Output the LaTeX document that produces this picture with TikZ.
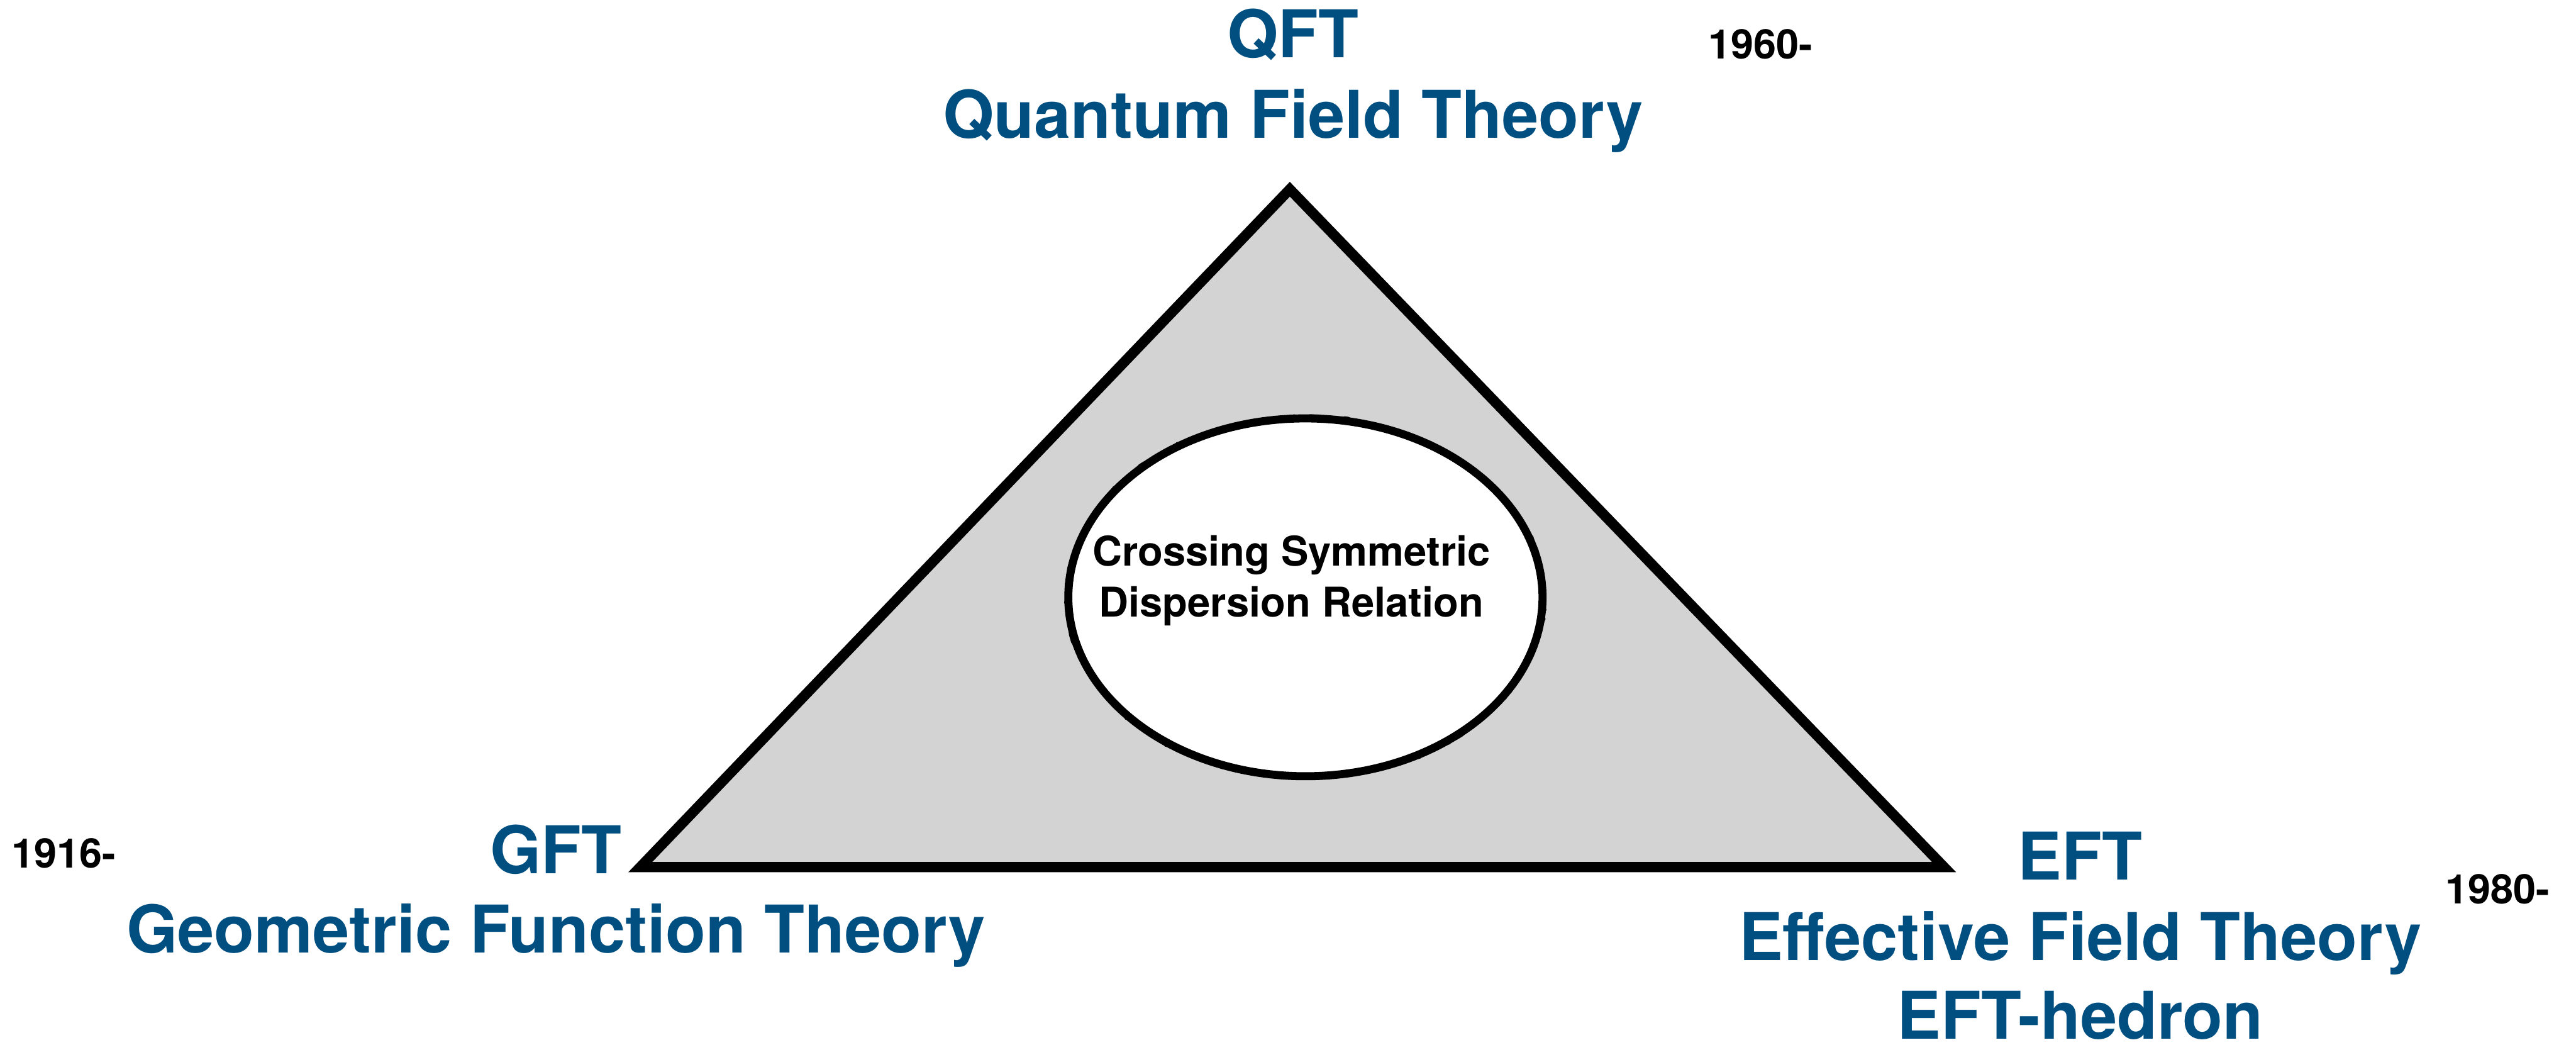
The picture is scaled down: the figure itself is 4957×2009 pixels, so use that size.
\documentclass[tikz,border=0pt]{standalone}
\usepackage{fontspec}
\setmainfont{TeX Gyre Heros}
\usetikzlibrary{decorations.pathmorphing}
\definecolor{tblue}{RGB}{0,79,128}
\definecolor{tgray}{RGB}{211,211,211}
\begin{document}
\begin{tikzpicture}[x=0.01cm,y=-0.01cm,
  big/.style={font=\bfseries\fontsize{36}{44}\selectfont, text=tblue, anchor=base, inner sep=0pt},
  small/.style={font=\bfseries\fontsize{22.3}{28}\selectfont, text=black, anchor=base, inner sep=0pt},
  rough/.style={decorate, decoration={random steps, segment length=3pt, amplitude=1.1pt}},
  edge/.style={line width=5.6pt, line join=miter, draw=black}]
\pgfmathsetseed{7}
\useasboundingbox (0,0) rectangle (4957,2009);
% triangle
\coordinate (A) at (2482,364);
\coordinate (B) at (1232,1668);
\coordinate (C) at (3741,1668);
\fill[tgray] (A) -- (B) -- (C) -- cycle;
\draw[edge] (A) -- (B) -- (C) -- cycle;
\draw[rough, line width=1.8pt] (A) -- (B) -- (C) -- cycle;
% ellipse
\coordinate (E) at (2512,1149);
\fill[white] (E) ellipse [x radius=4.56cm, y radius=3.44cm];
\draw[line width=4.4pt] (E) ellipse [x radius=4.56cm, y radius=3.44cm];
\draw[rough, line width=1.5pt] (E) ellipse [x radius=4.58cm, y radius=3.46cm];
% texts
\node[small, font=\bfseries\fontsize{22.4}{28}\selectfont] (cs1) at (2485,1088) {Crossing Symmetric};
\node[small, font=\bfseries\fontsize{22.4}{28}\selectfont] (cs2) at (2485,1186) {Dispersion Relation};
\node[big] (qft) at (2488,111) {QFT};
\node[big] (qftname) at (2488,266) {Quantum Field Theory};
\node[small] (y1960) at (3388,113) {1960-};
\node[small] (y1916) at (123,1670) {1916-};
\node[big] (gft) at (1070,1680) {GFT};
\node[big] (gftname) at (1070,1833) {Geometric Function Theory};
\node[big] (eft) at (4003,1692) {EFT};
\node[big] (eftname) at (4003,1847) {Effective Field Theory};
\node[big] (efth) at (4003,1999) {EFT-hedron};
\node[small] (y1980) at (4806,1739) {1980-};
\end{tikzpicture}
\end{document}
